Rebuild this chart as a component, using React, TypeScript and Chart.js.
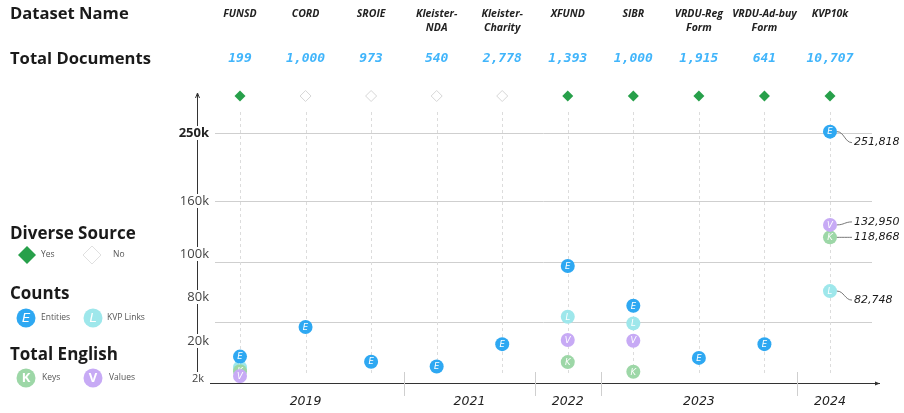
import React, { useEffect, useRef } from "react";
import { Chart, registerables } from "chart.js";
Chart.register(...registerables);

// ---------- data ----------
const datasetNames = ["FUNSD", "CORD", "SROIE", "Kleister-\nNDA", "Kleister-\nCharity", "XFUND", "SIBR", "VRDU-Reg\nForm", "VRDU-Ad-buy\nForm", "KVP10k"];
const totalDocuments = [199, 1000, 973, 540, 2778, 1393, 1000, 1915, 641, 10707];
const diverseSource = [true, false, false, false, false, true, true, true, true, true];
const releaseYears = [2019, 2019, 2019, 2021, 2021, 2022, 2023, 2023, 2023, 2024];

const entities = [12600, 39000, 10200, 7900, 18500, 94400, 68000, 12000, 18500, 251818];
const kvpLinks = [7500, null, null, null, null, 53000, 44000, null, null, 82748];
const keys = [5700, null, null, null, null, 10000, 5400, null, null, 118868];
const valuesEn = [3400, null, null, null, null, 21400, 20400, null, null, 132950];

const yTickValues = [2000, 20000, 80000, 100000, 160000, 250000];
const yTickLabels = ["2k", "20k", "80k", "100k", "160k", "250k"];
const gridValues = [46000, 96300, 160000, 250000];
const annotatedIndex = 9;

// axis geometry (non-linear, hand-placed axis): position units of each tick value
const axisUnits = [4, 42, 86, 129, 182, 250];
const toUnits = (v: number) => {
  const a = yTickValues, u = axisUnits;
  if (v <= a[0]) return (u[0] * v) / a[0];
  for (let i = 1; i < a.length; i++) {
    if (v <= a[i]) return u[i - 1] + ((v - a[i - 1]) / (a[i] - a[i - 1])) * (u[i] - u[i - 1]);
  }
  const n = a.length - 1;
  return u[n] + ((v - a[n]) / (a[n] - a[n - 1])) * (u[n] - u[n - 1]);
};

const series = [
  { label: "Entities", letter: "E", data: entities, color: "#2ea8f2", labelDy: 11 },
  { label: "Values", letter: "V", data: valuesEn, color: "#c7aaf5", labelDy: -3 },
  { label: "Keys", letter: "K", data: keys, color: "#9dd7a7", labelDy: 0 },
  { label: "KVP Links", letter: "L", data: kvpLinks, color: "#9ee7eb", labelDy: 9 },
];

const HEAD = '"Open Sans", "Noto Sans", sans-serif';
const HAND = '"DejaVu Sans", sans-serif';
const MONO = '"DejaVu Sans Mono", monospace';

function diamond(ctx: CanvasRenderingContext2D, x: number, y: number, r: number, fill: string | null, stroke: string | null) {
  ctx.beginPath();
  ctx.moveTo(x, y - r);
  ctx.lineTo(x + r, y);
  ctx.lineTo(x, y + r);
  ctx.lineTo(x - r, y);
  ctx.closePath();
  if (fill) { ctx.fillStyle = fill; ctx.fill(); }
  if (stroke) { ctx.strokeStyle = stroke; ctx.lineWidth = 1; ctx.stroke(); }
}

function circle(ctx: CanvasRenderingContext2D, x: number, y: number, r: number, color: string, letter: string, font: string) {
  ctx.beginPath();
  ctx.arc(x, y, r, 0, Math.PI * 2);
  ctx.fillStyle = color;
  ctx.fill();
  ctx.fillStyle = "#ffffff";
  ctx.font = font;
  ctx.textAlign = "center";
  ctx.textBaseline = "middle";
  ctx.fillText(letter, x, y + 0.5);
}

const decorPlugin = {
  id: "decor",
  beforeDatasetsDraw(chart: any) {
    const ctx: CanvasRenderingContext2D = chart.ctx;
    const xs = chart.scales.x, ys = chart.scales.y;
    const area = chart.chartArea;
    const colX = (i: number) => xs.getPixelForValue(i);
    const valY = (v: number) => ys.getPixelForValue(toUnits(v));
    ctx.save();

    // headers
    ctx.fillStyle = "#1a1a1a";
    ctx.textAlign = "left";
    ctx.textBaseline = "middle";
    ctx.font = `bold 16.6px ${HEAD}`;
    ctx.fillText("Dataset Name", 10, 14);
    ctx.fillText("Total Documents", 10, 59);

    datasetNames.forEach((name, i) => {
      const lines = name.split("\n");
      ctx.font = `italic bold 10.5px ${HEAD}`;
      ctx.fillStyle = "#222";
      ctx.textAlign = "center";
      lines.forEach((ln, k) => ctx.fillText(ln, colX(i), 14 + k * 14.5));
      ctx.font = `italic bold 13px ${MONO}`;
      ctx.fillStyle = "#41b5fb";
      ctx.fillText(totalDocuments[i].toLocaleString("en-US"), colX(i), 59);
      if (diverseSource[i]) diamond(ctx, colX(i), 96, 5.5, "#27a04a", null);
      else diamond(ctx, colX(i), 96, 5.5, "#ffffff", "#d6d6d6");
    });

    // horizontal grid
    ctx.strokeStyle = "#cfcfcf";
    ctx.lineWidth = 1;
    gridValues.forEach((v) => {
      const y = Math.round(valY(v)) + 0.5;
      ctx.beginPath();
      ctx.moveTo(215, y);
      ctx.lineTo(872, y);
      ctx.stroke();
    });

    // vertical dashed lines
    ctx.setLineDash([3, 3]);
    ctx.strokeStyle = "#dcdcdc";
    datasetNames.forEach((_, i) => {
      const x = Math.round(colX(i)) + 0.5;
      ctx.beginPath();
      ctx.moveTo(x, 112);
      ctx.lineTo(x, 374);
      ctx.stroke();
    });
    ctx.setLineDash([]);

    // y axis
    const ax = area.left + 0.5;
    ctx.strokeStyle = "#333";
    ctx.lineWidth = 1;
    ctx.beginPath();
    ctx.moveTo(ax, area.top + 1);
    ctx.lineTo(ax, area.bottom - 5);
    ctx.stroke();
    ctx.beginPath();
    ctx.moveTo(ax - 2, area.top + 5);
    ctx.lineTo(ax, area.top);
    ctx.lineTo(ax + 2, area.top + 5);
    ctx.stroke();

    // x axis
    const by = area.bottom + 0.5;
    ctx.beginPath();
    ctx.moveTo(210, by);
    ctx.lineTo(area.right, by);
    ctx.stroke();
    ctx.beginPath();
    ctx.moveTo(area.right - 5, by - 2);
    ctx.lineTo(area.right, by);
    ctx.lineTo(area.right - 5, by + 2);
    ctx.fillStyle = "#333";
    ctx.fill();

    // y tick labels
    yTickValues.forEach((v, i) => {
      const y = valY(v);
      const last = i === yTickValues.length - 1;
      ctx.font = last ? `bold 13px ${HEAD}` : i === 0 ? `11px ${HEAD}` : `13px ${HEAD}`;
      const rx = i === 0 ? 204 : 209;
      const w = ctx.measureText(yTickLabels[i]).width;
      ctx.fillStyle = "#ffffff";
      ctx.fillRect(rx - w - 1, y - 7, w + 2, 14);
      ctx.fillStyle = last ? "#222" : "#444";
      ctx.textAlign = "right";
      ctx.textBaseline = "middle";
      ctx.fillText(yTickLabels[i], rx, y);
    });

    // year groups
    const groups: { year: number; first: number; last: number }[] = [];
    releaseYears.forEach((yr, i) => {
      const g = groups[groups.length - 1];
      if (g && g.year === yr) g.last = i;
      else groups.push({ year: yr, first: i, last: i });
    });
    ctx.strokeStyle = "#cfcfcf";
    groups.forEach((g, gi) => {
      const cx = (colX(g.first) + colX(g.last)) / 2;
      ctx.font = `italic 12.5px ${HAND}`;
      ctx.fillStyle = "#222";
      ctx.textAlign = "center";
      ctx.textBaseline = "middle";
      ctx.fillText(String(g.year), cx, 402);
      if (gi > 0) {
        const sx = Math.round((colX(g.first - 1) + colX(g.first)) / 2) + 0.5;
        ctx.beginPath();
        ctx.moveTo(sx, 372);
        ctx.lineTo(sx, 396);
        ctx.stroke();
      }
    });

    // legend
    ctx.fillStyle = "#1a1a1a";
    ctx.textAlign = "left";
    ctx.textBaseline = "middle";
    ctx.font = `bold 17px ${HEAD}`;
    ctx.fillText("Diverse Source", 10, 234);
    ctx.fillText("Counts", 10, 294);
    ctx.fillText("Total English", 10, 355);

    diamond(ctx, 27, 255, 9, "#27a04a", null);
    diamond(ctx, 92, 255, 9, "#ffffff", "#e0e0e0");
    ctx.font = `8.5px ${HEAD}`;
    ctx.fillStyle = "#555";
    ctx.fillText("Yes", 41, 255);
    ctx.fillText("No", 113, 255);

    const legendFont = `italic 13px ${HAND}`;
    const byLabel = (l: string) => series.find((s) => s.label === l)!;
    const E = byLabel("Entities"), L = byLabel("KVP Links"), K = byLabel("Keys"), V = byLabel("Values");
    circle(ctx, 26, 318, 9.5, E.color, E.letter, legendFont);
    circle(ctx, 93, 318, 9.5, L.color, L.letter, legendFont);
    circle(ctx, 26, 378, 9.5, K.color, K.letter, `bold 13px ${HEAD}`);
    circle(ctx, 93, 378, 9.5, V.color, V.letter, `bold 13px ${HEAD}`);
    ctx.font = `8.5px ${HEAD}`;
    ctx.fillStyle = "#555";
    ctx.textAlign = "left";
    ctx.fillText(E.label, 41, 318);
    ctx.fillText(L.label, 107, 318);
    ctx.fillText(K.label, 42, 378);
    ctx.fillText(V.label, 109, 378);

    ctx.restore();
  },
  afterDatasetDraw(chart: any, args: any) {
    const ctx: CanvasRenderingContext2D = chart.ctx;
    const s = series[args.index];
    const meta = chart.getDatasetMeta(args.index);
    ctx.save();
    ctx.fillStyle = "#ffffff";
    ctx.font = `italic 8.5px ${HAND}`;
    ctx.textAlign = "center";
    ctx.textBaseline = "middle";
    meta.data.forEach((el: any) => ctx.fillText(s.letter, el.x, el.y + 0.5));
    ctx.restore();
  },
  afterDatasetsDraw(chart: any) {
    const ctx: CanvasRenderingContext2D = chart.ctx;
    ctx.save();
    series.forEach((s, si) => {
      const meta = chart.getDatasetMeta(si);
      const ds = chart.data.datasets[si];
      meta.data.forEach((el: any, k: number) => {
        const raw = ds.data[k];
        if (raw.x !== annotatedIndex) return;
        const x0 = el.x + 7, y0 = el.y;
        const x1 = el.x + 24, y1 = el.y + s.labelDy;
        ctx.strokeStyle = "#555";
        ctx.lineWidth = 0.8;
        ctx.beginPath();
        ctx.moveTo(x0, y0);
        ctx.bezierCurveTo(x0 + 7, y0, x1 - 9, y1, x1 - 2, y1);
        ctx.stroke();
        ctx.fillStyle = "#1a1a1a";
        ctx.font = `italic 11px ${HAND}`;
        ctx.textAlign = "left";
        ctx.textBaseline = "middle";
        ctx.fillText(raw.v.toLocaleString("en-US"), x1, y1);
      });
    });
    ctx.restore();
  },
};

export default function App() {
  const ref = useRef<HTMLCanvasElement>(null);
  useEffect(() => {
    if (!ref.current) return;
    const chart = new Chart(ref.current, {
      type: "scatter",
      data: {
        datasets: series.map((s) => ({
          label: s.label,
          data: s.data
            .map((v, i) => (v == null ? null : { x: i, y: toUnits(v), v }))
            .filter((p) => p !== null) as any,
          backgroundColor: s.color,
          borderWidth: 0,
          pointRadius: 7,
          pointHoverRadius: 7,
        })),
      },
      options: {
        animation: false,
        responsive: false,
        devicePixelRatio: 1,
        layout: { padding: { left: 197, right: 24, top: 93, bottom: 30 } },
        plugins: { legend: { display: false }, tooltip: { enabled: false } },
        events: [],
        scales: {
          x: { type: "linear", display: false, min: -0.656, max: 9.763 },
          y: { type: "linear", display: false, min: 0, max: 290 },
        },
      },
      plugins: [decorPlugin],
    });
    return () => chart.destroy();
  }, []);
  return (
    <div style={{ position: "fixed", left: 0, top: 0, width: 904, height: 413, background: "#fff" }}>
      <canvas ref={ref} width={904} height={413} style={{ width: 904, height: 413, display: "block" }} />
    </div>
  );
}
